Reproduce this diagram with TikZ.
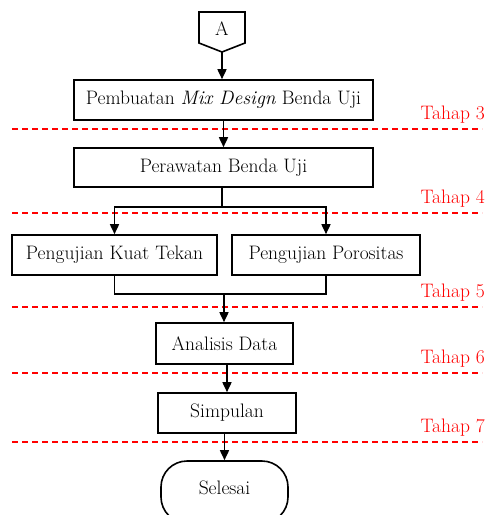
\documentclass[tikz,border=0pt]{standalone}
\usetikzlibrary{arrows.meta}
\tikzset{
	proses/.style={draw,fill=white,line width=1.6pt,minimum height=40pt,inner sep=0pt},
	garis/.style={line width=1.6pt,line cap=rect},
	panah/.style={garis,-{Triangle[length=10pt,width=9pt]}},
	batas/.style={draw=red,line width=1.6pt,dash pattern=on 6pt off 4pt},
	tahap/.style={text=red,anchor=base east,inner sep=0pt}
}
\begin{document}
\begin{tikzpicture}[x=1pt,y=-1pt,font=\fontsize{19.5}{23}\selectfont]
		\clip (0,0) rectangle (487,515);
		% batas tahap
			\foreach \y/\t in {129/3,213/4,307/5,373/6,442/7}{
				\draw [batas] (12,\y) -- (482,\y);
				\node [tahap] (tahap\t) at (485,\y-10) {Tahap \t};
			}
		% konektor A
			\draw [garis,line cap=butt] (199,12) -- (245,12) -- (245,43) -- (222,52) -- (199,43) -- cycle;
			\node (A) at (222,29) {A};
			\coordinate (Aujung) at (222,52);
		% proses
			\node [proses,minimum width=299pt] (buat) at (223.5,100) {Pembuatan \textit{Mix Design} Benda Uji};
			\node [proses,minimum width=299pt,minimum height=39pt] (rawat) at (223.5,167.5) {Perawatan Benda Uji};
			\node [proses,minimum width=205pt] (tekan) at (114.5,255) {Pengujian Kuat Tekan};
			\node [proses,minimum width=188pt] (poros) at (326,255) {Pengujian Porositas};
			\node [proses,minimum width=137pt,minimum height=41pt] (analisis) at (224.5,343.5) {Analisis Data};
			\node [proses,minimum width=138pt] (simpul) at (227,413) {Simpulan};
			\node [draw,fill=white,line width=1.6pt,rounded corners=26pt,minimum width=127pt,minimum height=62pt] (selesai) at (224.5,492) {};
			\node (teks) at (224.5,488) {Selesai};
		% panah
			\coordinate (cabang) at (222,207);
			\coordinate (gabung) at (224,294);
			\draw [panah] (Aujung) -- (Aujung |- buat.north);
			\draw [panah] (buat) -- (rawat);
			\draw [garis] (rawat.south -| cabang) -- (cabang);
			\draw [panah] (tekan.north |- cabang) -- (poros.north |- cabang) -- (poros.north);
			\draw [panah] (tekan.north |- cabang) -- (tekan.north);
			\draw [garis] (tekan.south) -- (tekan.south |- gabung) -- (poros.south |- gabung) -- (poros.south);
			\draw [panah] (gabung) -- (gabung |- analisis.north);
			\draw [panah] (simpul.north |- analisis.south) -- (simpul.north);
			\draw [panah] (selesai.north |- simpul.south) -- (selesai.north);
	\end{tikzpicture}
\end{document}
